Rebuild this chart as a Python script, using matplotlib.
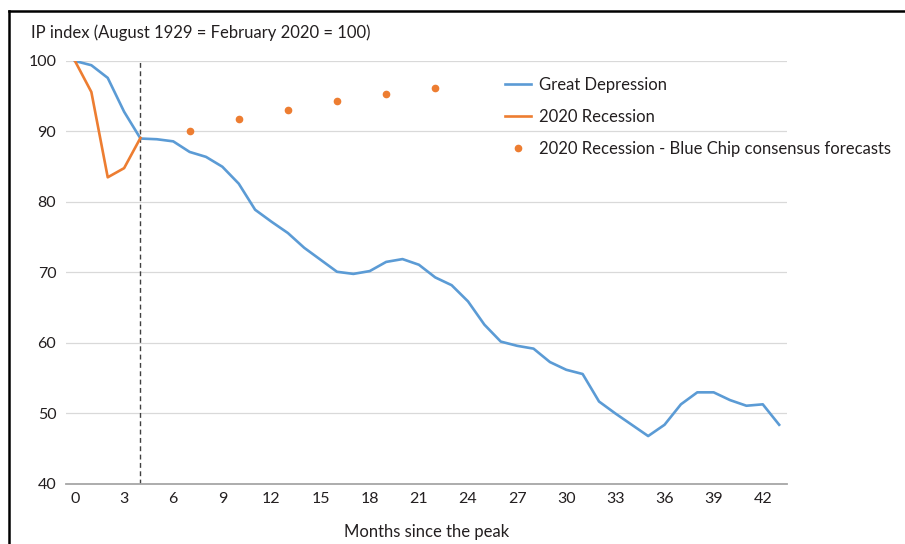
import matplotlib
matplotlib.use("Agg")
import matplotlib.pyplot as plt
from matplotlib.lines import Line2D

# months since the peak (0..43)
months = list(range(44))
great_depression = [100.0, 99.4, 97.6, 92.8, 89.0, 88.9, 88.6, 87.1, 86.4, 85.0,
                    82.6, 78.9, 77.2, 75.6, 73.5, 71.8, 70.1, 69.8, 70.2, 71.5,
                    71.9, 71.1, 69.3, 68.2, 65.9, 62.6, 60.2, 59.6, 59.2, 57.3,
                    56.2, 55.6, 51.7, 50.0, 48.4, 46.8, 48.4, 51.3, 53.0, 53.0,
                    51.9, 51.1, 51.3, 48.4]

recession_months = [0, 1, 2, 3, 4]
recession_2020 = [100.0, 95.6, 83.5, 84.8, 89.1]

forecast_months = [7, 10, 13, 16, 19, 22]
forecast_2020 = [90.1, 91.8, 93.0, 94.3, 95.3, 96.2]

x_ticks = list(range(0, 43, 3))
y_ticks = [40, 50, 60, 70, 80, 90, 100]

blue = "#5B9BD5"
orange = "#ED7D31"
text_col = "#231f20"

plt.rcParams['font.family'] = ['Lato', 'DejaVu Sans']
plt.rcParams['font.size'] = 11

fig = plt.figure(figsize=(9.05, 5.44), dpi=100)
ax = fig.add_axes([0.0729, 0.1103, 0.870 - 0.0729, 0.8879 - 0.1103])

ax.plot(months, great_depression, color=blue, lw=1.9, label="Great Depression", zorder=3)
ax.plot(recession_months, recession_2020, color=orange, lw=1.9, label="2020 Recession", zorder=4)
ax.plot(forecast_months, forecast_2020, 'o', color=orange, ms=4.5, lw=0,
        label="2020 Recession - Blue Chip consensus forecasts", zorder=4)
ax.axvline(4, color="#404040", lw=1.0, ls=(0, (3.5, 2.5)), zorder=2)

ax.set_xlim(-0.55, 43.5)
ax.set_ylim(40, 100)
ax.set_xticks(x_ticks)
ax.set_yticks(y_ticks)
ax.grid(axis='y', color="#d9d9d9", lw=0.9)
ax.set_axisbelow(True)
for s in ['top', 'right', 'left']:
    ax.spines[s].set_visible(False)
ax.spines['bottom'].set_color("#a6a6a6")
ax.spines['bottom'].set_linewidth(1.3)
ax.tick_params(axis='both', length=0, colors=text_col, labelsize=11.5)
ax.tick_params(axis='y', pad=7)
ax.tick_params(axis='x', pad=6)
ax.set_xlabel("Months since the peak", color=text_col, fontsize=12, labelpad=13)

fig.text(31 / 905, 1 - 33 / 544, "IP index (August 1929 = February 2020 = 100)",
         ha='left', va='center', color=text_col, fontsize=12)

ax.legend(loc='upper left', bbox_to_anchor=(505 / 905, 1 - 77 / 544),
          bbox_transform=fig.transFigure, frameon=False, borderpad=0,
          borderaxespad=0, handlelength=1.55, handletextpad=0.5,
          labelspacing=0.95, fontsize=12, labelcolor=text_col)

# frame lines at the top and left edge of the picture
fig.add_artist(Line2D([9 / 905, 1], [1 - 11 / 544, 1 - 11 / 544], color='black', lw=1.8))
fig.add_artist(Line2D([9 / 905, 9 / 905], [0, 1 - 11 / 544], color='black', lw=1.8))

fig.savefig("out.png", dpi=100)
